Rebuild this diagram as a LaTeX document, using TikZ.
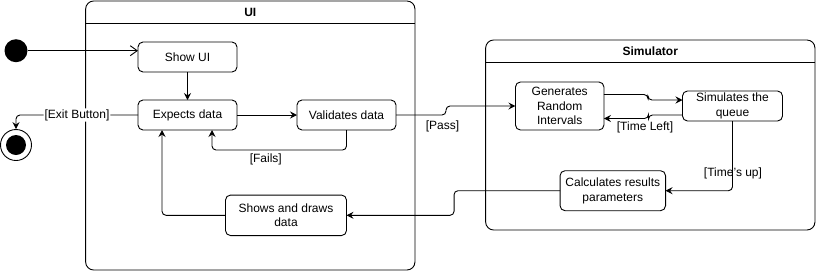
\documentclass[tikz,border=0pt]{standalone}
\usepackage{fontspec}
\setmainfont{Liberation Sans}
\usetikzlibrary{arrows.meta}

\tikzstyle{activity}=[draw,fill=white,rounded corners=5pt,align=center,
    minimum width=99,minimum height=30,inner sep=1pt,outer sep=0pt,line width=0.9pt]
\tikzstyle{container}=[draw,rounded corners=8pt,outer sep=0pt,line width=0.9pt]
\tikzstyle{container title}=[font=\fontsize{12}{14}\selectfont\bfseries]
\tikzstyle{transition}=[line width=0.9pt,rounded corners=4pt,
    >={Stealth[length=7pt,width=7pt,inset=2.5pt]}]
\tikzstyle{guard}=[inner sep=1pt]
\newcommand{\activity}[4][]{
    \node[activity,#1] (#3) at (#2) {#4};
}
\newcommand{\container}[5]{
    \node[container,minimum width=#3,minimum height=#4] (#1) at (#2) {};
    \draw[line width=0.9pt] ([yshift=-22.5pt]#1.north west) -- ([yshift=-22.5pt]#1.north east);
    \node[container title] at ([yshift=-11.5pt]#1.north) {#5};
}

\begin{document}
\begin{tikzpicture}[x=1pt,y=-1pt,font=\fontsize{12}{14.5}\selectfont]
    \useasboundingbox (0,0) rectangle (817,274);
    %
    \container{ui}{250.3,135.5}{329.3}{269}{UI}
    \container{sim}{650.3,135}{329.3}{190}{Simulator}
    %
    \node[circle,fill,minimum size=23,inner sep=0pt] (initial) at (16,50.7) {};
    \node[circle,draw,line width=0.9pt,minimum size=31,inner sep=0pt] (final) at (16,145) {};
    \node[circle,fill,minimum size=20,inner sep=0pt] at (final) {};
    %
    \activity{187.5,57}{showui}{Show UI}
    \activity{187.5,115}{expects}{Expects data}
    \activity{346.5,115}{validates}{Validates data}
    \activity[minimum width=121,minimum height=40.5]{286,215.3}{shows}{Shows and draws\\data}
    %
    \activity[minimum width=88.5,minimum height=48]{559.7,106}{generates}{Generates\\Random\\Intervals}
    \activity[minimum width=100,minimum height=30]{732.5,106}{simulates}{Simulates the\\queue}
    \activity[minimum width=105.5,minimum height=40]{612.8,190.7}{calculates}{Calculates results\\parameters}
    %
    \draw[transition,-{Straight Barb[length=7pt,width=10pt]}] (initial.east) -- (initial.east -| showui.west);
    \draw[transition,->] (showui) -- (expects);
    \draw[transition,->] (expects) -- (validates);
    \draw[transition,->] (expects.west) -| (final.north)
        node[guard,pos=0.25,fill=white] {[Exit Button]};
    \draw[transition,->] (validates.south) -- ++(0,20) -| ([xshift=24.5pt]expects.south)
        node[guard,pos=0.3,below=2pt] {[Fails]};
    %
    \draw[transition,->] (validates.east) -- node[guard,pos=0.93,below=4pt] {[Pass]} ++(50,0)
        |- (generates.west);
    \draw[transition,->] ([yshift=11.5pt]generates.east) -- ++(44,0) |- ([yshift=6pt]simulates.west);
    \draw[transition,->] ([yshift=-9pt]simulates.west) -- ++(-34,0) |- ([yshift=-12.5pt]generates.east);
    \node[guard] at (645,127) {[Time Left]};
    \draw[transition,->] (simulates.south) |- (calculates.east);
    \node[guard] at (733,173) {[Time's up]};
    %
    \draw[transition,->] (calculates.west) -- ++(-106,0) |- (shows.east);
    \draw[transition,->] (shows.west) -| ([xshift=-25.5pt]expects.south);
\end{tikzpicture}
\end{document}
